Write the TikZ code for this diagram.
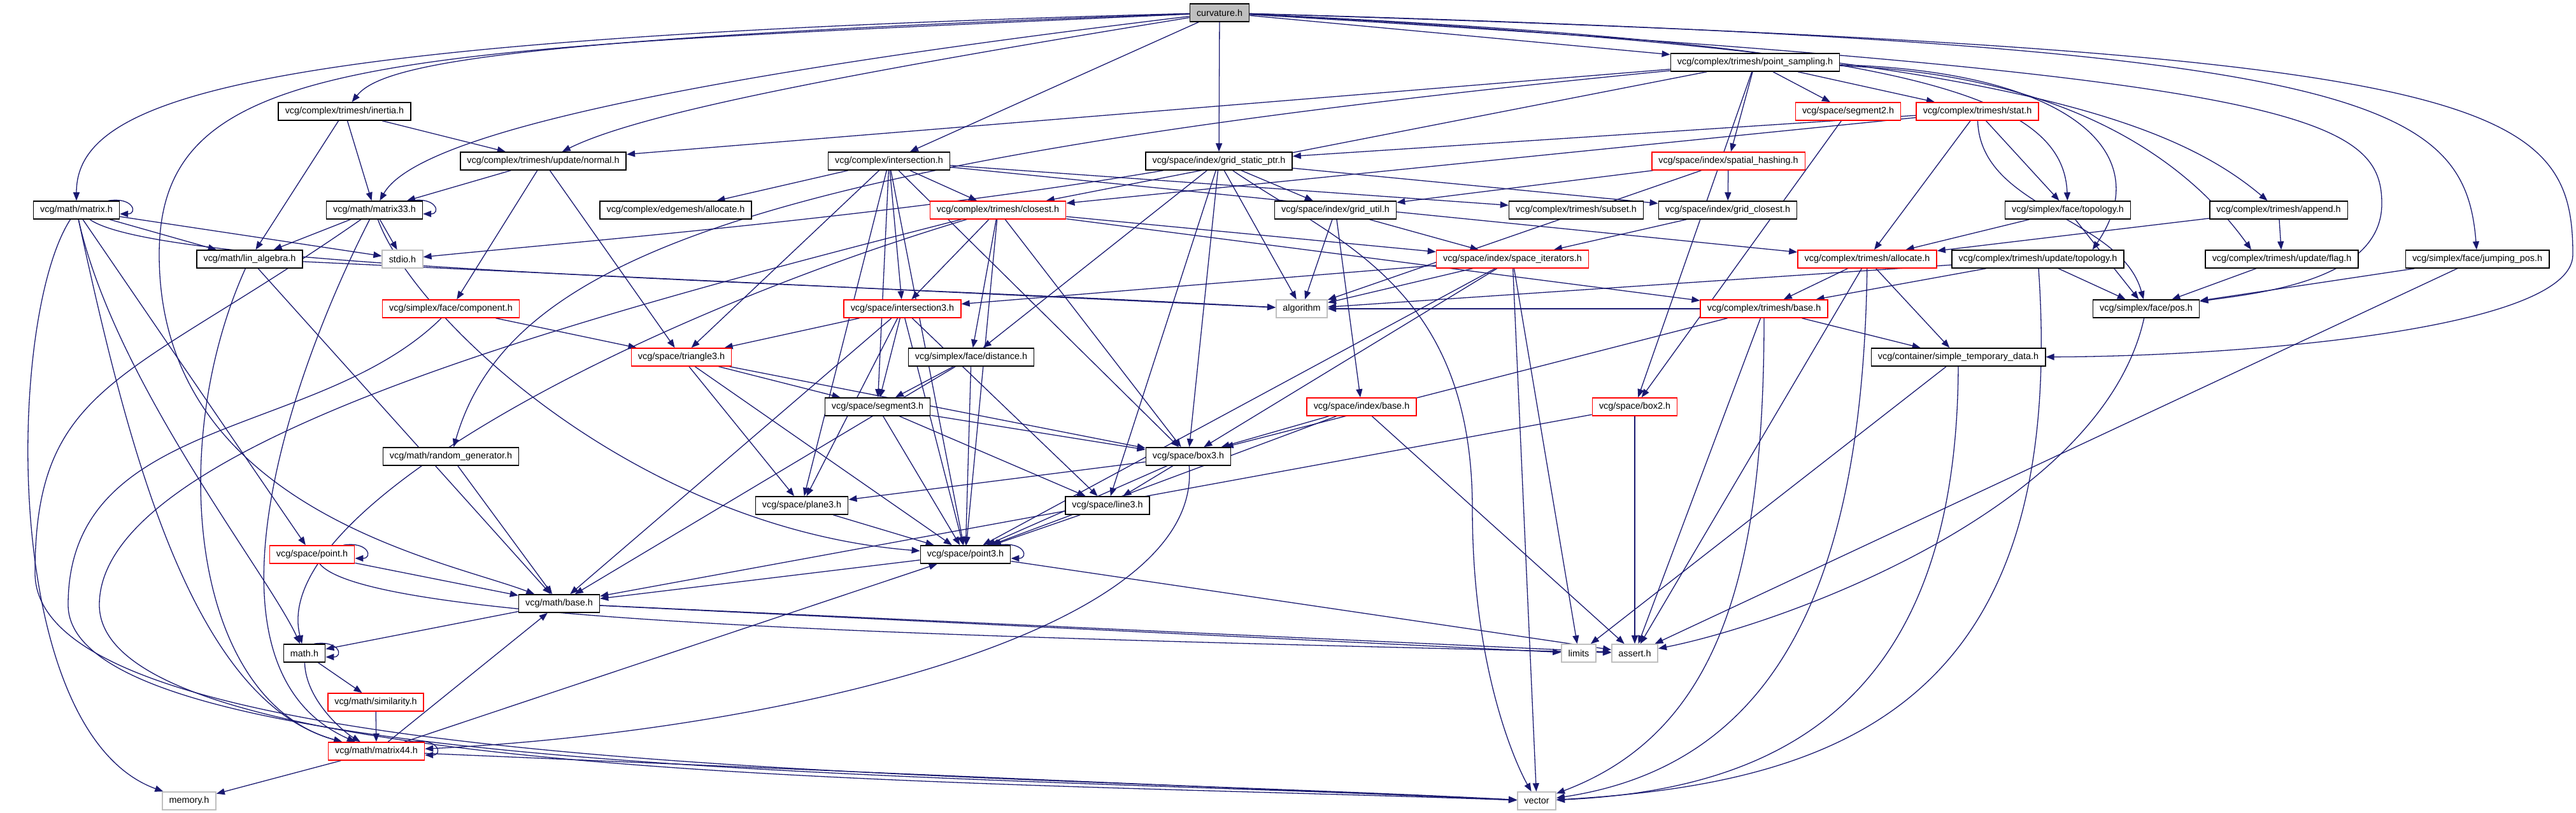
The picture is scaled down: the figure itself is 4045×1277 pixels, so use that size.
\documentclass[tikz,border=0pt]{standalone}
\usepackage{fontspec}
\newfontfamily\hdrfont{Liberation Sans}
\usetikzlibrary{arrows.meta}
\definecolor{edgeblue}{HTML}{191970}
\definecolor{hdrgray}{HTML}{BFBFBF}
\pgfdeclarelayer{edges}
\pgfsetlayers{edges,main}
\newcommand\hdrloop[1]{\draw[edge] ([xshift=-9pt]#1.north east) .. controls +(20pt,3pt) and +(14pt,0pt) .. ([yshift=-3pt]#1.east);}
\begin{document}
\begin{tikzpicture}[x=0.5pt,y=-0.5pt,
  edge/.style={draw=edgeblue, line width=0.65pt, -{Triangle[length=6.5pt,width=5pt]}}]
\tikzset{hdr/.style={draw=black, line width=0.8pt, fill=white,
           font=\hdrfont\fontsize{7.2}{8.6}\selectfont,
           inner xsep=5.3pt, inner ysep=0pt, minimum height=14pt},
         trunc/.style={hdr, draw=red},
         sys/.style={hdr, draw=hdrgray},
         root/.style={hdr, fill=hdrgray}}
\useasboundingbox (0,0) rectangle (4045,1277);
% nodes
\node[root]  (cur)    at (1915,20)   {curvature.h};
\node[hdr]   (mat)    at (120,330)   {vcg/math/matrix.h};
\node[hdr]   (inr)    at (541,175)   {vcg/complex/trimesh/inertia.h};
\node[hdr]   (nrm)    at (853,253)   {vcg/complex/trimesh/update/normal.h};
\node[hdr]   (m33)    at (588,330)   {vcg/math/matrix33.h};
\node[hdr]   (lin)    at (392,407)   {vcg/math/lin\_algebra.h};
\node[sys]   (stdio)  at (632,407)   {stdio.h};
\node[trunc] (comp)   at (708,485)   {vcg/simplex/face/component.h};
\node[hdr]   (rnd)    at (708,717)   {vcg/math/random\_generator.h};
\node[trunc] (pnt)    at (490,871)   {vcg/space/point.h};
\node[hdr]   (mbase)  at (878,948)   {vcg/math/base.h};
\node[hdr]   (mathh)  at (478,1026)  {math.h};
\node[trunc] (sim)    at (590,1103)  {vcg/math/similarity.h};
\node[trunc] (m44)    at (591,1180)  {vcg/math/matrix44.h};
\node[sys]   (memory) at (297,1258)  {memory.h};
\node[hdr]   (intsc)  at (1396,253)  {vcg/complex/intersection.h};
\node[hdr]   (ealloc) at (1061,330)  {vcg/complex/edgemesh/allocate.h};
\node[trunc] (clo)    at (1567,330)  {vcg/complex/trimesh/closest.h};
\node[trunc] (int3)   at (1417,485)  {vcg/space/intersection3.h};
\node[trunc] (tri3)   at (1070,561)  {vcg/space/triangle3.h};
\node[hdr]   (dist)   at (1525,561)  {vcg/simplex/face/distance.h};
\node[hdr]   (seg3)   at (1378,639)  {vcg/space/segment3.h};
\node[hdr]   (box3)   at (1866,717)  {vcg/space/box3.h};
\node[hdr]   (plane3) at (1259,794)  {vcg/space/plane3.h};
\node[hdr]   (line3)  at (1739,794)  {vcg/space/line3.h};
\node[hdr]   (p3)     at (1516,871)  {vcg/space/point3.h};
\node[hdr]   (gsp)    at (1914,253)  {vcg/space/index/grid\_static\_ptr.h};
\node[hdr]   (gutil)  at (2097,330)  {vcg/space/index/grid\_util.h};
\node[hdr]   (subset) at (2475,330)  {vcg/complex/trimesh/subset.h};
\node[hdr]   (gclo)   at (2713,330)  {vcg/space/index/grid\_closest.h};
\node[trunc] (shash)  at (2714,253)  {vcg/space/index/spatial\_hashing.h};
\node[trunc] (siter)  at (2375,407)  {vcg/space/index/space\_iterators.h};
\node[sys]   (algo)   at (2044,485)  {algorithm};
\node[trunc] (ibase)  at (2138,639)  {vcg/space/index/base.h};
\node[trunc] (box2)   at (2567,639)  {vcg/space/box2.h};
\node[trunc] (tbase)  at (2770,485)  {vcg/complex/trimesh/base.h};
\node[trunc] (alloc)  at (2932,407)  {vcg/complex/trimesh/allocate.h};
\node[hdr]   (stemp)  at (3075,561)  {vcg/container/simple\_temporary\_data.h};
\node[sys]   (limits) at (2479,1026) {limits};
\node[sys]   (assert) at (2567,1026) {assert.h};
\node[sys]   (vector) at (2413,1258) {vector};
\node[hdr]   (psamp)  at (2756,98)   {vcg/complex/trimesh/point\_sampling.h};
\node[trunc] (seg2)   at (2902,175)  {vcg/space/segment2.h};
\node[trunc] (stat)   at (3105,175)  {vcg/complex/trimesh/stat.h};
\node[hdr]   (ftopo)  at (3247,330)  {vcg/simplex/face/topology.h};
\node[hdr]   (append) at (3578,330)  {vcg/complex/trimesh/append.h};
\node[hdr]   (utopo)  at (3200,407)  {vcg/complex/trimesh/update/topology.h};
\node[hdr]   (uflag)  at (3583,407)  {vcg/complex/trimesh/update/flag.h};
\node[hdr]   (fpos)   at (3370,485)  {vcg/simplex/face/pos.h};
\node[hdr]   (jpos)   at (3890,407)  {vcg/simplex/face/jumping\_pos.h};
\begin{pgfonlayer}{edges}
% straight includes
\foreach \a/\b in {cur/intsc, cur/gsp, cur/psamp,
    inr/nrm, inr/m33, inr/lin, nrm/m33, nrm/comp, nrm/tri3,
    mat/stdio, mat/lin, mat/pnt, m33/lin, m33/stdio, lin/algo, lin/mbase,
    pnt/mbase, mathh/sim, sim/m44, m44/memory, m44/mbase, m44/p3, m44/vector,
    mbase/mathh, mbase/limits, mbase/assert, p3/mbase, p3/assert,
    comp/tri3, rnd/mbase,
    intsc/ealloc, intsc/clo, intsc/int3, intsc/seg3, intsc/plane3, intsc/tri3,
    intsc/subset, intsc/alloc, intsc/box3, intsc/p3,
    clo/int3, clo/dist, clo/p3, clo/box3, clo/siter, clo/tbase,
    gsp/gutil, gsp/gclo, gsp/dist, gsp/line3, gsp/box3, gsp/algo,
    int3/tri3, int3/seg3, int3/plane3, int3/line3, int3/p3, int3/mbase,
    tri3/seg3, tri3/box3, tri3/plane3, tri3/p3,
    dist/seg3, dist/p3, dist/mbase, seg3/box3, seg3/line3, seg3/p3,
    box3/plane3, box3/line3, box3/p3, plane3/p3, line3/p3,
    ibase/box3, ibase/p3, ibase/assert,
    siter/int3, siter/algo, siter/box3, siter/p3, siter/limits, siter/vector,
    gutil/algo, gutil/ibase, gutil/siter, gclo/siter,
    shash/gutil, shash/gclo, shash/algo, seg2/box2, box2/assert, box2/mbase,
    tbase/algo, tbase/stemp, tbase/box3, tbase/assert,
    alloc/tbase, alloc/assert, alloc/stemp,
    utopo/tbase, utopo/algo, utopo/fpos, uflag/fpos,
    jpos/fpos, jpos/assert, stemp/limits, append/alloc, append/uflag,
    ftopo/fpos, ftopo/alloc,
    stat/ftopo, stat/gsp, stat/clo, stat/alloc,
    psamp/nrm, psamp/clo, psamp/shash, psamp/seg2, psamp/stat, psamp/box2}
  \draw[edge] (\a) -- (\b);
% routed includes
\draw[edge] (cur) .. controls (400,60) and (120,150) .. (mat);
\draw[edge] (cur) .. controls (800,60) and (600,100) .. (inr);
\draw[edge] (cur) .. controls (1000,130) and (650,220) .. (m33);
\draw[edge] (cur) .. controls (1300,120) and (1000,180) .. (nrm);
\draw[edge] (cur) .. controls (600,80) and (250,80) .. (250,400) .. controls (250,800) and (700,880) .. (mbase);
\draw[edge] (cur) .. controls (3700,70) and (3870,150) .. (jpos);
\draw[edge] (cur) .. controls (3900,80) and (4040,150) .. (4040,400) .. controls (4040,520) and (3500,560) .. (stemp);
\draw[edge] (cur) .. controls (3600,120) and (3740,180) .. (3740,320) .. controls (3740,440) and (3550,460) .. (fpos);
\draw[edge] (cur) .. controls (3000,70) and (3240,150) .. (ftopo);
\draw[edge] (cur) .. controls (3100,80) and (3400,180) .. (append);
\draw[edge] (psamp) .. controls (3250,112) and (3390,240) .. ([xshift=-25pt]utopo.north east);
\draw[edge] (psamp) .. controls (3260,118) and (3440,260) .. ([xshift=-24pt]uflag.north);
\draw[edge] (stat) .. controls (3110,330) and (3330,340) .. (fpos);
\draw[edge] (mat) .. controls (10,500) and (0,1150) .. (memory);
\draw[edge] (mat) .. controls (250,421) and (1200,440) .. (algo);
\draw[edge] (mat) .. controls (180,600) and (420,900) .. (mathh);
\draw[edge] (mat) .. controls (200,700) and (300,1100) .. (m44);
\draw[edge] (m33) .. controls (200,600) and (55,600) .. (55,900) .. controls (55,1220) and (1500,1210) .. (vector);
\draw[edge] (comp) .. controls (500,690) and (107,650) .. (107,950) .. controls (107,1220) and (1500,1215) .. (vector);
\draw[edge] (clo) .. controls (900,500) and (156,700) .. (156,950) .. controls (156,1230) and (1500,1225) .. (vector);
\draw[edge] (m33) .. controls (450,600) and (300,1050) .. (m44);
\draw[edge] (lin) .. controls (260,700) and (300,1100) .. (m44);
\draw[edge] (m33) .. controls (650,500) and (1000,830) .. (p3);
\draw[edge] (mathh) .. controls (480,1100) and (540,1150) .. (m44);
\draw[edge] (pnt) .. controls (580,980) and (1500,1000) .. (assert);
\draw[edge] (box3) .. controls (1890,1000) and (1200,1150) .. (m44);
\draw[edge] (gsp) .. controls (2100,380) and (2312,450) .. (2312,800) .. controls (2312,1050) and (2380,1200) .. (vector);
\draw[edge] (tbase) .. controls (2770,900) and (2700,1150) .. (vector);
\draw[edge] (alloc) .. controls (2925,900) and (2800,1200) .. (vector);
\draw[edge] (utopo) .. controls (3248,1100) and (2900,1230) .. (vector);
\draw[edge] (stemp) .. controls (3073,1100) and (2800,1240) .. (vector);
\draw[edge] (fpos) .. controls (3300,800) and (2800,980) .. (assert);
\draw[edge] (psamp) .. controls (1200,250) and (800,400) .. (rnd);
\draw[edge] (gsp) .. controls (1400,340) and (900,380) .. (stdio);
\draw[edge] (clo) .. controls (1000,500) and (420,800) .. (mathh);
% self includes
\hdrloop{mat}
\hdrloop{m33}
\hdrloop{pnt}
\hdrloop{mathh}
\hdrloop{m44}
\hdrloop{p3}
\end{pgfonlayer}
\end{tikzpicture}
\end{document}
